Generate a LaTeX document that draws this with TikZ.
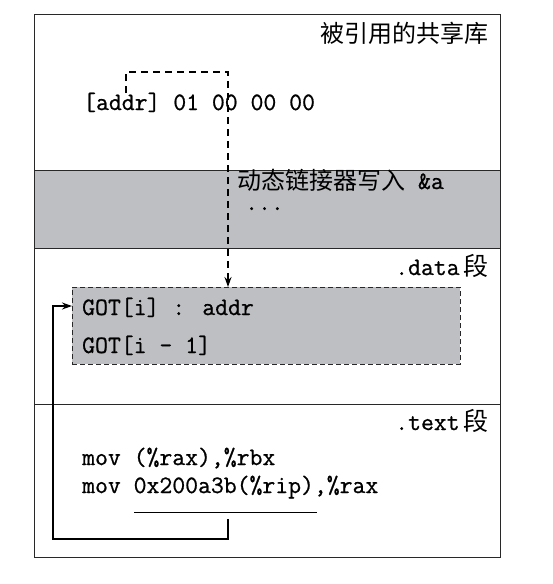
\documentclass[tikz,border=0pt]{standalone}
\usepackage{fontspec}
\newfontfamily\cjk{Noto Sans CJK SC}
\newfontfamily\ttb{Latin Modern Mono}[FakeBold=0.8]
\usetikzlibrary{arrows.meta}
\definecolor{bandgrey}{RGB}{190,191,195}
\definecolor{framegrey}{RGB}{40,40,40}
\tikzset{
  tt/.style={inner sep=0pt, font=\fontsize{25}{29}\selectfont\ttb, anchor=base west},
  ttright/.style={inner sep=0pt, font=\fontsize{25}{29}\selectfont\ttb, anchor=base east},
  frame/.style={draw=framegrey, line width=1pt},
  gotbox/.style={draw=framegrey, dashed, dash pattern=on 5pt off 3pt, line width=0.8pt, fill=bandgrey, inner sep=0pt, anchor=north west, minimum width=388pt, minimum height=77pt},
  dashlink/.style={line width=1.7pt, dash pattern=on 7pt off 5pt, -{Stealth[length=10pt,width=7pt]}},
  solidlink/.style={line width=1.8pt, -{Stealth[length=10pt,width=7pt]}},
  uline/.style={line width=1pt},
}
\begin{document}
\begin{tikzpicture}[x=1pt,y=-1pt]
\useasboundingbox (0,0) rectangle (552,584);
% band
\fill[bandgrey] (34,170) rectangle (500,248);
\draw[frame] (34,14) rectangle (500,557);
\draw[frame] (34,170) -- (500,170);
\draw[frame] (34,248) -- (500,248);
\draw[frame] (34,404) -- (500,404);
% section titles
\node[inner sep=0pt, anchor=base east, font=\fontsize{24}{28}\selectfont\cjk] (title) at (489,42) {被引用的共享库};
\node[ttright] (datalbl) at (489,275) {.data\,{\cjk 段}};
\node[ttright] (textlbl) at (489,430) {.text\,{\cjk 段}};
% library bytes
\node[tt] (addr) at (83,110) {[addr] 01 00 00 00};
% dynamic linker
\node[tt] (dl) at (237,189) {{\cjk\fontsize{24}{28}\selectfont 动态链接器写入} \&a};
\node[tt] (dots) at (245,210) {...};
% GOT box
\node[gotbox] (got) at (72,287) {};
\node[tt] (got1) at (82,315) {GOT[i] : addr};
\node[tt] (got2) at (82,353) {GOT[i - 1]};
% text section
\node[tt] (mov1) at (82,465) {mov (\%rax),\%rbx};
\node[tt] (mov2) at (82,493) {mov 0x200a3b(\%rip),\%rax};
\coordinate (ulA) at (134,512);
\coordinate (ulB) at (317,512);
\draw[uline] (ulA) -- (ulB);
% connectors
\coordinate (bstart) at (126,93);
\coordinate (btop) at (228,72);
\draw[dashlink] (bstart) |- (btop) -- (btop |- got.north);
\coordinate (ustart) at (228,519);
\coordinate (ucorner) at (53,539);
\coordinate (gotin) at (72,306);
\draw[solidlink] (ustart) |- (ucorner) |- (gotin);
\end{tikzpicture}
\end{document}
